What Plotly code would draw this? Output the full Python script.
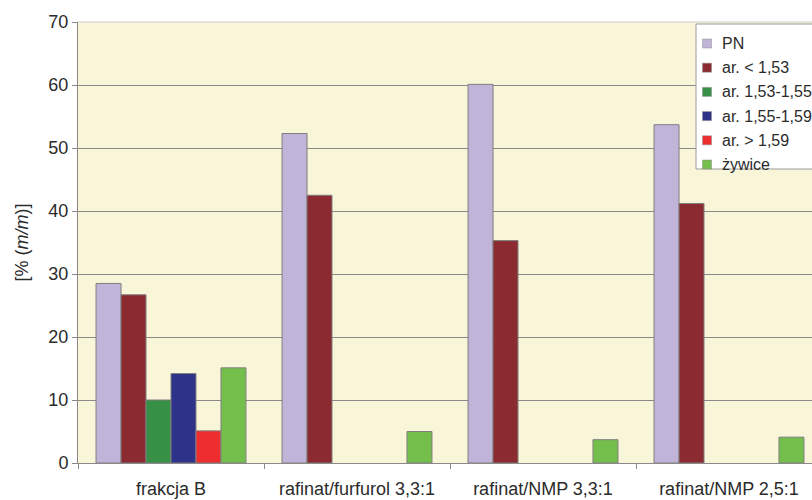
import plotly.graph_objects as go

# ---- data ----
categories = ["frakcja B", "rafinat/furfurol 3,3:1", "rafinat/NMP 3,3:1", "rafinat/NMP 2,5:1"]
series_names = ["PN", "ar. < 1,53", "ar. 1,53-1,55", "ar. 1,55-1,59", "ar. > 1,59", "żywice"]
pn = [28.5, 52.3, 60.1, 53.7]
ar_lt_153 = [26.7, 42.5, 35.3, 41.2]
ar_153_155 = [10.0, None, None, None]
ar_155_159 = [14.2, None, None, None]
ar_gt_159 = [5.1, None, None, None]
zywice = [15.1, 5.0, 3.7, 4.1]
series_values = [pn, ar_lt_153, ar_153_155, ar_155_159, ar_gt_159, zywice]
y_ticks = [0, 10, 20, 30, 40, 50, 60, 70]

colors = ["#C1B4D9", "#8C2A31", "#369046", "#2E3288", "#EE2D2F", "#74BF4B"]

# ---- layout geometry (pixels) ----
W, H = 812, 500
L, T, B = 78, 22, 37
plot_w = W - L
plot_h = H - T - B
group_px = 186  # width of one category band

def px_x(px):
    return (px - L) / plot_w

def px_y(py):
    return (H - B - py) / plot_h

font_family = "Liberation Sans, Arial, sans-serif"
text_color = "#2b2b2b"
axis_gray = "#8a8a8a"

fig = go.Figure()
for name, vals, col in zip(series_names, series_values, colors):
    fig.add_trace(go.Bar(
        x=categories, y=vals, name=name,
        marker=dict(color=col, line=dict(color="#7f7f7f", width=1)),
        showlegend=False,
    ))

fig.update_layout(
    width=W, height=H,
    margin=dict(l=L, r=0, t=T, b=B, autoexpand=False),
    paper_bgcolor="white",
    plot_bgcolor="#F8F5D8",
    barmode="group",
    bargap=0.194,
    bargroupgap=0,
    font=dict(family=font_family, color=text_color, size=18),
    xaxis=dict(
        range=[-0.5, -0.5 + plot_w / group_px],
        tickson="boundaries",
        ticks="outside", ticklen=5, tickcolor=axis_gray,
        showline=True, linecolor=axis_gray, linewidth=1,
        showgrid=False,
        tickfont=dict(size=18, color=text_color),
        ticklabelstandoff=9,
        fixedrange=True,
    ),
    yaxis=dict(
        range=[0, 70],
        tickvals=y_ticks,
        ticks="outside", ticklen=5, tickcolor=axis_gray,
        showline=True, linecolor=axis_gray, linewidth=1,
        showgrid=True, gridcolor=axis_gray, gridwidth=1,
        zeroline=False,
        tickfont=dict(size=18, color=text_color),
        title=dict(text="[% (<i>m/m</i>)]", font=dict(size=18, color=text_color), standoff=15),
    ),
)

# lighter top edge of the plot area
fig.add_shape(type="line", xref="paper", yref="paper", x0=0, x1=1, y0=1, y1=1,
              line=dict(color="#cfcfcf", width=1), layer="above")

# ---- legend box (drawn manually) ----
box_left, box_top, box_bottom = 696, 24, 169
fig.add_shape(type="rect", xref="paper", yref="paper",
              x0=px_x(box_left), x1=px_x(W + 30), y0=px_y(box_bottom), y1=px_y(box_top),
              fillcolor="white", line=dict(color="#9a9a9a", width=1), layer="above")
row0, row_step = 43.5, 24.2
sq = 9
sq_cx = 707
for i, (name, col) in enumerate(zip(series_names, colors)):
    cy = row0 + i * row_step
    fig.add_shape(type="rect", xref="paper", yref="paper",
                  x0=px_x(sq_cx - sq / 2), x1=px_x(sq_cx + sq / 2),
                  y0=px_y(cy + sq / 2), y1=px_y(cy - sq / 2),
                  fillcolor=col, line=dict(color="#8a8a8a", width=0.5), layer="above")
    fig.add_annotation(xref="paper", yref="paper", x=px_x(720), y=px_y(cy),
                       xanchor="left", yanchor="middle", showarrow=False,
                       text=name, font=dict(size=16, color=text_color, family=font_family))

fig.write_html("out.html")
